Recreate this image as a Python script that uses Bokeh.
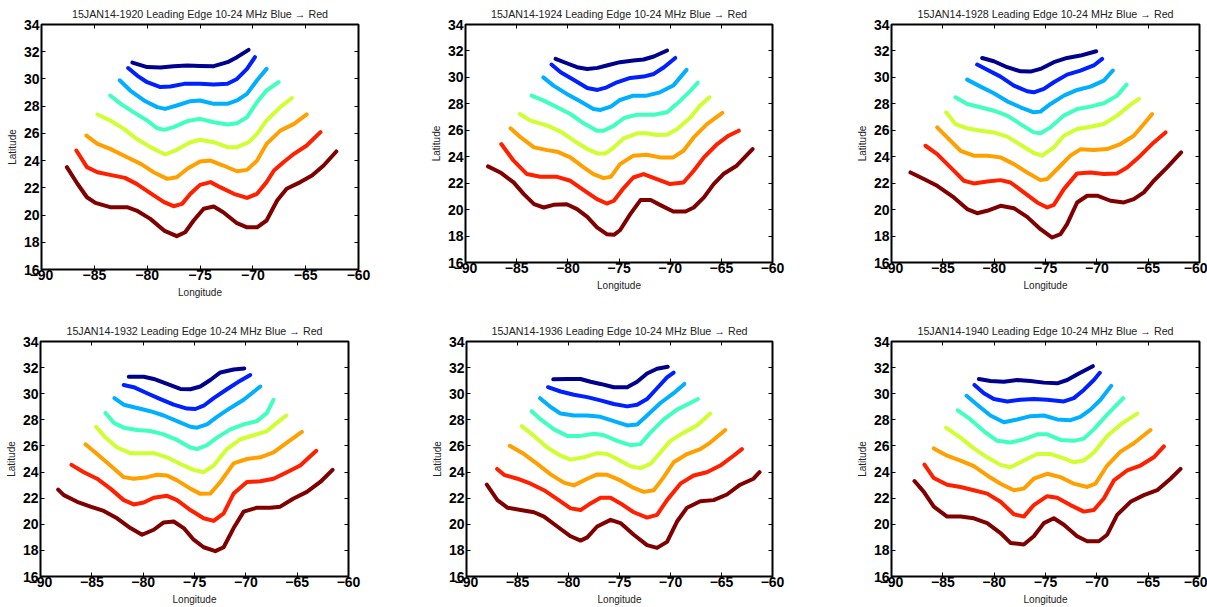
from bokeh.plotting import figure
from bokeh.layouts import row, column
from bokeh.models import Range1d, FixedTicker, LinearAxis
from bokeh.embed import file_html
from bokeh.resources import INLINE

# ---------------- data (longitude / latitude of the leading edge, 8 frequencies, blue -> red) ----
TIMES = ["1920", "1924", "1928", "1932", "1936", "1940"]
COLORS = ["#00008F", "#0020FF", "#00AFFF", "#40FFBF", "#CFFF30", "#FFA000", "#FF2000", "#800000"]
X_TICKS = [-90, -85, -80, -75, -70, -65, -60]
Y_TICKS = [16, 18, 20, 22, 24, 26, 28, 30, 32, 34]

lon_1920 = [
    [-81.4, -80.0, -78.75, -77.5, -76.2, -75.0, -73.7, -72.4, -71.5, -70.4],
    [-81.8, -80.95, -80.0, -78.75, -77.8, -76.5, -75.0, -73.7, -72.4, -71.5, -70.55, -69.8],
    [-82.6, -81.6, -80.3, -79.05, -78.3, -77.2, -75.9, -75.0, -73.7, -72.4, -71.5, -70.55, -69.6, -68.7],
    [-83.5, -82.5, -81.3, -80.0, -79.1, -78.4, -77.5, -76.2, -75.0, -73.7, -72.4, -71.5, -70.55, -69.6, -68.7, -67.56],
    [-84.7, -83.5, -82.2, -81.0, -79.7, -78.3, -77.2, -75.9, -75.0, -73.7, -72.4, -71.5, -70.4, -69.6, -68.7, -67.4, -66.3],
    [-85.75, -84.7, -83.5, -81.9, -80.6, -79.4, -78.1, -77.2, -76.2, -75.0, -74.0, -72.8, -71.5, -70.55, -69.6, -68.7, -67.4, -66.1, -64.9],
    [-86.7, -85.7, -84.7, -83.5, -82.1, -81.0, -79.7, -78.4, -77.5, -76.7, -75.9, -75.0, -74.0, -73.1, -71.8, -70.55, -69.6, -68.7, -68.0, -67.1, -66.1, -64.9, -63.6],
    [-87.6, -86.6, -85.7, -84.9, -83.5, -81.9, -81.0, -79.7, -78.4, -77.2, -76.4, -75.6, -74.65, -73.7, -72.8, -71.5, -70.55, -69.6, -68.7, -67.7, -66.8, -65.5, -64.4, -63.3, -62.1],
]
lat_1920 = [
    [31.2, 30.87, 30.84, 30.94, 30.99, 30.96, 30.94, 31.23, 31.6, 32.14],
    [30.8, 30.25, 29.76, 29.4, 29.44, 29.64, 29.64, 29.6, 29.64, 30.0, 30.74, 31.6],
    [29.9, 29.15, 28.42, 27.93, 27.8, 28.05, 28.37, 28.42, 28.17, 28.17, 28.42, 28.9, 29.9, 30.74],
    [28.78, 28.17, 27.56, 26.95, 26.4, 26.26, 26.46, 26.9, 27.07, 26.82, 26.65, 26.75, 27.19, 28.3, 29.15, 29.76],
    [27.39, 26.95, 26.33, 25.6, 24.99, 24.45, 24.79, 25.35, 25.53, 25.35, 24.99, 24.99, 25.35, 25.97, 26.95, 27.93, 28.6],
    [25.84, 25.23, 24.86, 24.25, 23.76, 23.15, 22.66, 22.78, 23.4, 23.93, 24.0, 23.64, 23.22, 23.32, 24.0, 25.23, 26.2, 26.7, 27.39],
    [24.74, 23.52, 23.15, 22.95, 22.73, 22.29, 21.61, 20.95, 20.65, 20.82, 21.56, 22.22, 22.42, 22.05, 21.56, 21.26, 21.56, 22.42, 23.27, 23.88, 24.5, 25.11, 26.09],
    [23.52, 22.3, 21.31, 20.9, 20.58, 20.58, 20.33, 19.72, 18.86, 18.45, 18.74, 19.6, 20.46, 20.63, 20.21, 19.4, 19.1, 19.1, 19.6, 21.07, 21.93, 22.42, 22.9, 23.64, 24.67],
]

lon_1924 = [
    [-81.2, -80.1, -79.1, -78.1, -77.1, -76.2, -74.9, -73.6, -72.6, -71.6, -70.3],
    [-81.6, -80.7, -79.4, -78.1, -77.1, -76.2, -75.2, -73.9, -72.6, -71.6, -70.6, -69.5],
    [-82.4, -81.4, -80.1, -78.8, -77.5, -76.8, -75.8, -74.9, -73.6, -72.3, -71.0, -69.7, -68.4],
    [-83.55, -82.35, -81.05, -79.75, -78.45, -77.15, -76.5, -75.5, -74.5, -73.2, -71.6, -70.3, -69.0, -68.0, -67.3],
    [-84.7, -83.65, -82.0, -80.7, -79.4, -78.1, -77.1, -76.3, -75.5, -74.5, -73.2, -72.3, -71.3, -70.3, -69.3, -68.0, -67.1, -66.15],
    [-85.6, -84.6, -83.3, -82.0, -81.05, -79.75, -78.45, -77.5, -76.5, -75.8, -74.9, -73.6, -72.3, -71.0, -69.7, -68.7, -67.7, -66.4, -64.9],
    [-86.5, -85.3, -84.0, -82.7, -81.05, -79.75, -78.45, -77.15, -76.2, -75.5, -74.5, -73.6, -72.6, -71.3, -70.0, -68.7, -67.7, -66.7, -65.4, -64.3, -63.3],
    [-87.8, -86.6, -85.3, -84.3, -83.3, -82.35, -81.4, -80.1, -79.1, -78.1, -77.15, -76.2, -75.5, -74.9, -73.9, -72.9, -71.9, -71.0, -69.7, -68.5, -67.7, -66.7, -65.75, -64.8, -63.5, -61.95],
]
lat_1924 = [
    [31.4, 31.07, 30.77, 30.64, 30.72, 30.9, 31.15, 31.27, 31.35, 31.58, 32.03],
    [30.97, 30.39, 29.81, 29.2, 29.05, 29.25, 29.63, 29.96, 30.06, 30.26, 30.77, 31.47],
    [30.0, 29.38, 28.75, 28.19, 27.61, 27.54, 27.79, 28.29, 28.62, 28.62, 28.87, 29.38, 30.57],
    [28.62, 28.24, 27.74, 27.23, 26.53, 25.97, 25.97, 26.35, 26.93, 27.18, 27.18, 27.36, 28.24, 29.0, 29.6],
    [27.23, 26.73, 26.35, 25.9, 25.21, 24.58, 24.25, 24.25, 24.71, 25.41, 25.77, 25.77, 25.64, 25.67, 26.1, 26.98, 27.86, 28.49],
    [26.15, 25.46, 24.71, 24.5, 24.38, 23.95, 23.19, 22.69, 22.38, 22.48, 23.44, 24.08, 24.15, 23.95, 23.95, 24.45, 25.46, 26.47, 27.31],
    [24.96, 23.7, 22.69, 22.48, 22.48, 22.18, 21.47, 20.79, 20.46, 20.67, 21.67, 22.43, 22.69, 22.31, 21.93, 22.05, 22.94, 23.95, 24.96, 25.59, 25.97],
    [23.27, 22.81, 22.06, 21.17, 20.41, 20.16, 20.36, 20.41, 20.04, 19.45, 18.65, 18.14, 18.09, 18.44, 19.66, 20.72, 20.72, 20.36, 19.86, 19.86, 20.16, 20.92, 21.93, 22.69, 23.32, 24.58],
]

lon_1928 = [
    [-81.17, -80.03, -78.73, -77.44, -76.46, -75.49, -74.19, -72.9, -71.6, -70.06],
    [-81.66, -80.68, -79.38, -78.08, -76.79, -76.14, -75.16, -74.19, -72.9, -71.6, -70.3, -69.48],
    [-82.63, -81.33, -80.03, -78.73, -77.44, -76.14, -75.49, -74.51, -73.21, -71.92, -70.62, -69.32, -68.44],
    [-83.77, -82.63, -81.33, -80.03, -78.73, -77.44, -76.14, -75.49, -74.51, -73.21, -71.92, -70.62, -69.32, -68.02, -67.11],
    [-84.68, -83.77, -82.63, -81.33, -80.03, -78.73, -77.44, -76.14, -75.33, -74.19, -73.21, -71.92, -70.62, -69.32, -68.02, -66.72, -65.9],
    [-85.55, -84.58, -83.28, -81.98, -80.68, -79.38, -78.08, -76.79, -75.49, -74.84, -73.86, -72.57, -71.6, -70.3, -69.0, -67.7, -66.4, -65.42, -64.61],
    [-86.69, -85.55, -84.25, -82.95, -81.98, -80.68, -79.38, -78.41, -77.11, -75.81, -74.84, -74.19, -73.21, -71.92, -70.62, -69.32, -68.02, -67.05, -65.75, -64.45, -63.31],
    [-88.15, -86.85, -85.55, -83.93, -82.63, -81.66, -80.68, -79.38, -78.08, -76.79, -75.49, -74.35, -73.54, -72.9, -71.92, -70.94, -69.97, -68.67, -67.37, -66.4, -65.42, -64.45, -63.15, -61.79],
]
lat_1928 = [
    [31.47, 31.22, 30.77, 30.46, 30.44, 30.64, 31.15, 31.47, 31.65, 31.98],
    [30.97, 30.57, 30.06, 29.38, 28.95, 28.87, 29.13, 29.63, 30.21, 30.51, 30.9, 31.4],
    [29.83, 29.3, 28.8, 28.19, 27.74, 27.36, 27.41, 27.99, 28.62, 29.05, 29.3, 29.76, 30.52],
    [28.49, 27.99, 27.74, 27.48, 27.11, 26.47, 25.84, 25.77, 26.22, 27.11, 27.61, 27.79, 28.04, 28.62, 29.45],
    [27.36, 26.47, 26.15, 25.97, 25.84, 25.52, 24.91, 24.28, 24.08, 24.71, 25.59, 26.1, 26.27, 26.47, 27.11, 27.94, 28.37],
    [26.22, 25.46, 24.45, 24.08, 24.08, 23.95, 23.44, 22.81, 22.23, 22.31, 23.07, 24.08, 24.56, 24.51, 24.58, 24.96, 25.59, 26.47, 27.23],
    [24.83, 24.2, 23.19, 22.18, 21.98, 22.13, 22.23, 22.05, 21.3, 20.54, 20.16, 20.36, 21.55, 22.74, 22.81, 22.69, 22.74, 23.19, 24.08, 25.08, 25.84],
    [22.81, 22.31, 21.8, 20.92, 20.04, 19.73, 19.91, 20.29, 20.11, 19.45, 18.52, 17.89, 18.14, 18.9, 20.54, 21.05, 21.05, 20.67, 20.54, 20.79, 21.3, 22.18, 23.19, 24.33],
]

lon_1932 = [
    [-81.4, -79.94, -78.97, -77.67, -76.38, -75.4, -74.43, -73.46, -72.48, -71.19, -70.15],
    [-81.9, -80.92, -79.62, -78.32, -77.03, -75.73, -74.92, -74.11, -73.13, -71.84, -70.54, -69.57],
    [-82.8, -81.9, -80.59, -79.3, -78.0, -76.7, -75.4, -74.76, -73.78, -72.81, -71.51, -70.21, -68.59],
    [-83.67, -82.86, -81.89, -80.59, -79.3, -78.0, -76.7, -75.4, -74.76, -73.78, -72.81, -71.51, -70.21, -68.92, -67.94, -67.3],
    [-84.58, -83.67, -82.54, -81.24, -80.27, -78.97, -77.67, -76.38, -75.08, -74.11, -73.13, -71.84, -70.54, -69.24, -67.94, -66.97, -66.06],
    [-85.62, -84.49, -83.19, -81.89, -80.92, -79.62, -78.65, -77.67, -76.7, -75.4, -74.43, -73.46, -72.48, -71.19, -69.89, -68.59, -67.3, -66.0, -64.54],
    [-86.98, -85.78, -84.49, -83.19, -81.89, -80.92, -79.94, -78.97, -77.67, -76.7, -75.4, -74.11, -73.13, -72.16, -71.19, -69.89, -68.59, -67.3, -66.0, -64.7, -63.14],
    [-88.28, -87.73, -86.43, -85.13, -83.84, -82.54, -81.24, -80.11, -78.97, -78.0, -77.03, -76.05, -75.08, -74.11, -72.97, -72.16, -71.19, -70.21, -68.92, -67.62, -66.65, -65.35, -64.05, -62.75, -61.55],
]
lat_1932 = [
    [31.3, 31.3, 31.13, 30.75, 30.37, 30.34, 30.55, 31.05, 31.63, 31.86, 31.93],
    [30.67, 30.5, 30.04, 29.59, 29.16, 28.86, 28.83, 29.08, 29.66, 30.34, 31.0, 31.43],
    [29.66, 29.16, 28.91, 28.66, 28.33, 27.9, 27.47, 27.4, 27.65, 28.23, 28.91, 29.54, 30.55],
    [28.53, 27.77, 27.4, 27.22, 27.14, 26.89, 26.46, 25.88, 25.76, 26.06, 26.64, 27.27, 27.65, 27.9, 28.53, 29.54],
    [27.47, 26.64, 25.88, 25.45, 25.45, 25.45, 25.13, 24.62, 24.17, 23.99, 24.5, 25.76, 26.51, 26.82, 27.14, 27.77, 28.33],
    [26.13, 25.38, 24.5, 23.61, 23.49, 23.61, 23.79, 23.74, 23.36, 22.73, 22.33, 22.35, 23.24, 24.67, 25.0, 25.13, 25.5, 26.26, 27.07],
    [24.55, 23.99, 23.49, 22.73, 21.85, 21.52, 21.67, 22.03, 22.18, 21.85, 21.09, 20.46, 20.26, 20.84, 22.35, 23.24, 23.29, 23.49, 23.99, 24.5, 25.63],
    [22.66, 22.23, 21.72, 21.35, 21.02, 20.46, 19.71, 19.2, 19.58, 20.14, 20.21, 19.71, 18.82, 18.24, 17.94, 18.24, 19.71, 20.97, 21.27, 21.27, 21.35, 21.98, 22.48, 23.24, 24.17],
]

lon_1936 = [
    [-81.49, -80.12, -78.82, -77.84, -76.86, -75.56, -74.25, -73.27, -72.3, -71.32, -70.27],
    [-82.01, -80.77, -79.47, -78.16, -76.86, -75.56, -74.25, -73.27, -72.3, -71.32, -70.34, -69.69],
    [-82.79, -81.75, -80.77, -79.47, -78.16, -76.86, -75.56, -74.25, -73.27, -72.3, -70.99, -69.69, -68.64],
    [-83.61, -82.73, -81.42, -80.12, -78.82, -77.51, -76.53, -75.23, -73.93, -72.95, -71.97, -70.66, -69.36, -68.06, -67.31],
    [-84.59, -83.38, -82.08, -80.77, -79.79, -78.49, -77.19, -76.21, -75.23, -73.93, -72.95, -71.97, -70.99, -70.01, -68.71, -67.4, -66.1],
    [-85.76, -84.36, -83.06, -81.75, -80.45, -79.47, -78.16, -77.19, -76.21, -74.9, -73.6, -72.62, -71.64, -70.66, -69.69, -68.38, -67.08, -66.1, -64.63],
    [-87.0, -86.32, -85.01, -83.71, -82.4, -81.1, -79.79, -78.82, -77.84, -76.86, -75.88, -74.9, -73.6, -72.3, -71.32, -70.34, -69.03, -67.73, -66.43, -65.12, -63.82, -63.0],
    [-88.01, -86.97, -85.99, -84.69, -83.38, -82.4, -81.1, -79.79, -78.82, -78.16, -77.19, -75.88, -74.9, -73.6, -72.3, -71.32, -70.34, -69.36, -68.38, -67.08, -65.77, -64.47, -63.17, -61.86, -61.27],
]
lat_1936 = [
    [31.1, 31.13, 31.13, 30.92, 30.75, 30.5, 30.5, 30.92, 31.55, 31.91, 32.06],
    [30.5, 30.17, 29.92, 29.74, 29.49, 29.21, 29.03, 29.16, 29.59, 30.42, 31.25, 31.61],
    [29.66, 28.98, 28.48, 28.33, 28.33, 28.23, 27.9, 27.57, 27.65, 28.33, 29.29, 30.04, 30.75],
    [28.66, 28.03, 27.27, 26.77, 26.77, 26.94, 26.82, 26.39, 26.06, 26.14, 27.02, 28.03, 28.78, 29.29, 29.59],
    [27.52, 26.77, 25.88, 25.25, 24.95, 25.13, 25.45, 25.38, 25.0, 24.45, 24.3, 24.62, 25.5, 26.39, 27.02, 27.57, 28.48],
    [26.01, 25.38, 24.62, 23.82, 23.19, 22.98, 23.49, 23.82, 23.79, 23.36, 22.78, 22.48, 22.61, 23.61, 24.75, 25.38, 25.76, 26.26, 27.22],
    [24.24, 23.79, 23.49, 23.11, 22.61, 21.93, 21.22, 21.09, 21.6, 22.03, 22.03, 21.6, 20.92, 20.51, 20.72, 21.85, 23.11, 23.74, 23.99, 24.5, 25.25, 25.76],
    [23.03, 21.85, 21.27, 21.09, 20.92, 20.59, 19.83, 19.08, 18.75, 19.0, 19.83, 20.34, 20.09, 19.2, 18.4, 18.19, 18.65, 20.21, 21.27, 21.77, 21.85, 22.28, 23.03, 23.49, 23.99],
]

lon_1940 = [
    [-81.49, -80.36, -79.06, -77.76, -76.46, -75.16, -73.86, -72.89, -71.75, -70.39],
    [-81.92, -81.0, -80.03, -78.73, -77.44, -76.14, -74.84, -73.21, -72.24, -71.27, -70.29, -69.71],
    [-82.69, -81.66, -80.36, -79.06, -77.76, -76.46, -75.16, -73.86, -72.57, -71.6, -70.62, -69.64, -68.6],
    [-83.54, -82.31, -81.01, -79.71, -78.41, -77.11, -75.81, -74.84, -73.54, -72.24, -71.27, -70.29, -68.99, -67.43],
    [-84.68, -83.28, -81.98, -80.68, -79.38, -78.41, -77.11, -75.81, -74.51, -73.21, -72.24, -71.27, -70.29, -68.99, -67.69, -66.06],
    [-85.88, -84.58, -83.28, -81.98, -80.68, -79.38, -78.08, -77.11, -76.14, -74.84, -73.54, -72.24, -70.94, -70.13, -68.99, -67.69, -66.4, -64.77],
    [-86.79, -85.88, -84.58, -83.28, -81.98, -80.68, -79.38, -78.08, -77.11, -76.14, -74.84, -73.86, -72.57, -71.27, -70.29, -69.32, -68.34, -67.05, -65.75, -64.45, -63.47],
    [-87.76, -86.85, -85.88, -84.58, -83.28, -81.98, -80.68, -79.38, -78.41, -77.11, -76.14, -75.16, -74.19, -73.21, -71.92, -70.94, -69.81, -68.99, -68.02, -66.72, -65.42, -64.12, -62.82, -61.85],
]
lat_1940 = [
    [31.13, 30.98, 30.92, 31.05, 30.98, 30.85, 30.8, 31.05, 31.55, 32.11],
    [30.67, 30.04, 29.59, 29.41, 29.54, 29.59, 29.54, 29.41, 29.66, 30.29, 31.05, 31.6],
    [29.84, 29.16, 28.33, 27.82, 28.03, 28.28, 28.33, 28.03, 27.97, 28.23, 28.78, 29.54, 30.6],
    [28.73, 28.03, 27.14, 26.39, 26.26, 26.51, 26.89, 26.89, 26.46, 26.39, 26.56, 27.27, 28.4, 29.66],
    [27.4, 26.64, 25.81, 25.13, 24.55, 24.37, 24.88, 25.38, 25.38, 25.05, 24.75, 24.88, 25.5, 26.77, 27.65, 28.48],
    [25.81, 25.25, 24.88, 24.45, 23.74, 23.11, 22.61, 22.73, 23.49, 23.87, 23.61, 23.11, 22.86, 23.11, 24.5, 25.56, 26.21, 27.22],
    [24.57, 23.54, 23.03, 22.86, 22.61, 22.35, 21.72, 20.77, 20.59, 21.47, 22.15, 22.03, 21.47, 20.97, 21.09, 21.98, 23.36, 24.12, 24.5, 25.13, 25.96],
    [23.31, 22.48, 21.35, 20.59, 20.59, 20.46, 20.09, 19.33, 18.57, 18.45, 19.08, 20.09, 20.46, 19.96, 19.08, 18.7, 18.7, 19.2, 20.72, 21.72, 22.23, 22.61, 23.49, 24.24],
]

LONS = [lon_1920, lon_1924, lon_1928, lon_1932, lon_1936, lon_1940]
LATS = [lat_1920, lat_1924, lat_1928, lat_1932, lat_1936, lat_1940]

# ---------------- layout (width, height, border left, right, top, bottom) ----------------
BOXES = [
    (405, 317, 41, 47, 24, 48),
    (397, 310, 60, 30, 24, 48),
    (405, 310, 89, 8, 24, 48),
    (405, 290, 40, 57, 24, 28),
    (397, 290, 61, 30, 24, 28),
    (405, 290, 89, 8, 24, 28),
]

FONT = "Liberation Sans"


def style_axis(ax, show_labels):
    ax.major_tick_in = 4
    ax.major_tick_out = 0
    ax.major_tick_line_color = "black"
    ax.major_tick_line_width = 1
    ax.minor_tick_line_color = None
    ax.axis_line_color = None
    if show_labels:
        ax.major_label_text_font = FONT
        ax.major_label_text_font_style = "bold"
        ax.major_label_text_font_size = "14px"
        ax.major_label_text_color = "black"
        ax.axis_label_text_font = FONT
        ax.axis_label_text_font_style = "normal"
        ax.axis_label_text_font_size = "10px"
        ax.axis_label_text_color = "#222222"
    else:
        ax.major_label_text_font_size = "1px"
        ax.major_label_text_color = None
        ax.major_label_standoff = 0


def make_panel(i):
    w, h, bl, br, bt, bb = BOXES[i]
    p = figure(width=w, height=h, x_range=Range1d(-90, -60), y_range=Range1d(16, 34),
               output_backend="svg", toolbar_location=None,
               min_border_left=bl, min_border_right=br, min_border_top=bt, min_border_bottom=bb)
    p.title.text = "15JAN14-%s Leading Edge 10-24 MHz Blue \u2192 Red" % TIMES[i]
    p.title.align = "center"
    p.title.text_font = FONT
    p.title.text_font_size = "10.7px"
    p.title.text_font_style = "normal"
    p.title.text_color = "#222222"
    p.title.standoff = 10
    p.outline_line_color = "black"
    p.outline_line_width = 2
    p.outline_line_alpha = 1.0
    p.grid.visible = False
    p.background_fill_color = "white"
    p.border_fill_color = "white"

    p.xaxis.ticker = FixedTicker(ticks=X_TICKS)
    p.yaxis.ticker = FixedTicker(ticks=Y_TICKS)
    p.xaxis.axis_label = "Longitude"
    p.yaxis.axis_label = "Latitude"
    style_axis(p.xaxis[0], True)
    style_axis(p.yaxis[0], True)
    p.xaxis.major_label_standoff = 0
    p.xaxis.axis_label_standoff = 4
    p.yaxis.major_label_standoff = 2
    p.yaxis.axis_label_standoff = 3

    top = LinearAxis(ticker=FixedTicker(ticks=X_TICKS))
    right = LinearAxis(ticker=FixedTicker(ticks=Y_TICKS))
    style_axis(top, False)
    style_axis(right, False)
    p.add_layout(top, "above")
    p.add_layout(right, "right")

    for k in range(8):
        p.line(LONS[i][k], LATS[i][k], line_color=COLORS[k], line_width=4,
               line_join="round", line_cap="round")
    return p


panels = [make_panel(i) for i in range(6)]
layout = column(row(*panels[:3]), row(*panels[3:]))

open("out.html", "w").write(file_html(layout, INLINE))
